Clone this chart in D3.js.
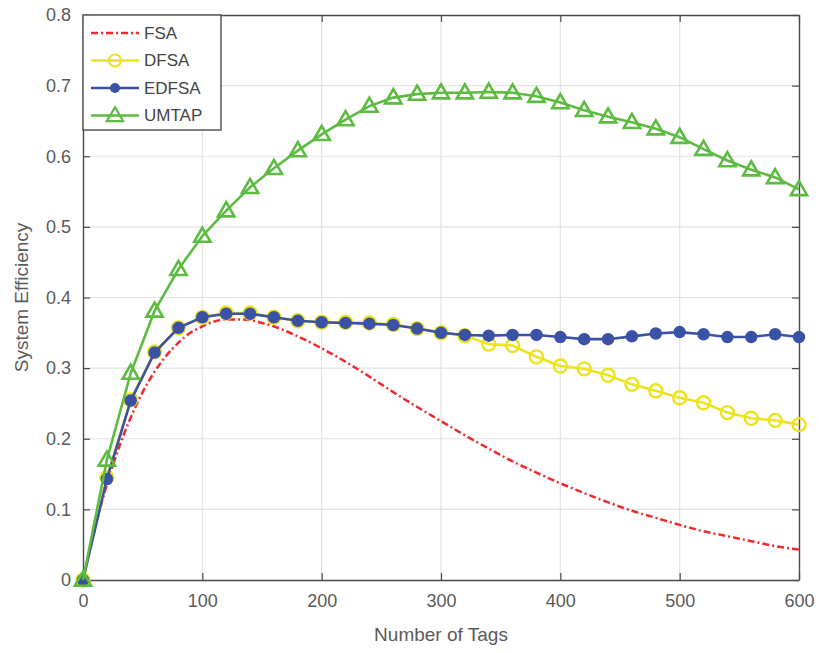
<!DOCTYPE html>
<html>
<head>
<meta charset="utf-8">
<script src="https://cdn.jsdelivr.net/npm/d3@7"></script>
<style>
  body { margin: 0; background: #fff; }
  svg { font-family: "Liberation Sans", Arial, sans-serif; }
</style>
</head>
<body>
<div id="chart"></div>
<script>
// tag counts for the marker series (every 20 tags)
const tags = [0, 20, 40, 60, 80, 100, 120, 140, 160, 180, 200, 220, 240, 260, 280, 300,
  320, 340, 360, 380, 400, 420, 440, 460, 480, 500, 520, 540, 560, 580, 600];

const dfsa = [0, 0.145, 0.255, 0.323, 0.357, 0.372, 0.378, 0.378, 0.372, 0.367, 0.365,
  0.365, 0.364, 0.362, 0.356, 0.350, 0.346, 0.334, 0.332, 0.316, 0.303, 0.299, 0.290,
  0.277, 0.268, 0.258, 0.251, 0.237, 0.229, 0.226, 0.220];

const edfsa = [0, 0.143, 0.254, 0.322, 0.357, 0.372, 0.377, 0.377, 0.372, 0.367, 0.365,
  0.364, 0.363, 0.361, 0.356, 0.350, 0.347, 0.346, 0.347, 0.347, 0.344, 0.341, 0.341,
  0.345, 0.349, 0.351, 0.348, 0.344, 0.344, 0.348, 0.344];

const umtap = [0, 0.170, 0.293, 0.381, 0.440, 0.487, 0.523, 0.556, 0.583, 0.608, 0.631,
  0.652, 0.671, 0.683, 0.688, 0.690, 0.690, 0.691, 0.690, 0.685, 0.676, 0.665, 0.656,
  0.648, 0.639, 0.627, 0.610, 0.594, 0.581, 0.570, 0.553];

// FSA is a plain line, sampled finer
const fsaTags = [0, 10, 20, 30, 40, 50, 60, 70, 80, 90, 100, 110, 120, 130, 140, 150, 160,
  180, 200, 220, 240, 260, 280, 300, 320, 340, 360, 380, 400, 420, 440, 460, 480, 500,
  520, 540, 560, 580, 600];
const fsa = [0, 0.073, 0.135, 0.187, 0.230, 0.266, 0.295, 0.318, 0.336, 0.350, 0.359,
  0.366, 0.369, 0.369, 0.368, 0.364, 0.359, 0.345, 0.328, 0.309, 0.288, 0.266, 0.245,
  0.225, 0.205, 0.186, 0.168, 0.152, 0.137, 0.123, 0.110, 0.098, 0.088, 0.078, 0.069,
  0.062, 0.055, 0.048, 0.043];

const xTicks = [0, 100, 200, 300, 400, 500, 600];
const yTicks = [0, 0.1, 0.2, 0.3, 0.4, 0.5, 0.6, 0.7, 0.8];

const width = 819, height = 653;
const margin = { top: 15, right: 20, bottom: 73, left: 83 };
const plotW = width - margin.left - margin.right;
const plotH = height - margin.top - margin.bottom;

const colors = { fsa: '#ee2a2f', dfsa: '#ede31c', edfsa: '#3a52a6', umtap: '#5cbb40' };
const axisGray = '#4a4a4a';
const textGray = '#5a5a5a';
const dashDot = '7,3,2,3';

const svg = d3.select('#chart').append('svg')
  .attr('width', width)
  .attr('height', height);

const g = svg.append('g').attr('transform', `translate(${margin.left},${margin.top})`);

const x = d3.scaleLinear().domain([0, 600]).range([0, plotW]);
const y = d3.scaleLinear().domain([0, 0.8]).range([plotH, 0]);

// grid
g.append('g').selectAll('line').data(xTicks.slice(1, -1)).enter().append('line')
  .attr('x1', d => x(d)).attr('x2', d => x(d))
  .attr('y1', 0).attr('y2', plotH)
  .attr('stroke', '#e3e3e3').attr('stroke-width', 1.2);
g.append('g').selectAll('line').data(yTicks.slice(1, -1)).enter().append('line')
  .attr('x1', 0).attr('x2', plotW)
  .attr('y1', d => y(d)).attr('y2', d => y(d))
  .attr('stroke', '#e3e3e3').attr('stroke-width', 1.2);

// axes with inward ticks, box style
function styleAxis(sel) {
  sel.select('.domain').attr('stroke', axisGray).attr('stroke-width', 1.4);
  sel.selectAll('.tick line').attr('stroke', axisGray).attr('stroke-width', 1.2);
  sel.selectAll('.tick text').attr('fill', textGray).style('font-size', '18px');
}

g.append('g').attr('transform', `translate(0,${plotH})`)
  .call(d3.axisBottom(x).tickValues(xTicks).tickSize(-7).tickSizeOuter(0).tickPadding(14))
  .call(styleAxis);
g.append('g')
  .call(d3.axisLeft(y).tickValues(yTicks).tickFormat(d => d === 0 ? '0' : d3.format('.1f')(d))
    .tickSize(-7).tickSizeOuter(0).tickPadding(12))
  .call(styleAxis);
g.append('g')
  .call(d3.axisTop(x).tickValues(xTicks).tickSize(-7).tickSizeOuter(0).tickFormat(''))
  .call(styleAxis);
g.append('g').attr('transform', `translate(${plotW},0)`)
  .call(d3.axisRight(y).tickValues(yTicks).tickSize(-7).tickSizeOuter(0).tickFormat(''))
  .call(styleAxis);

// axis titles
svg.append('text')
  .attr('x', margin.left + plotW / 2).attr('y', 641)
  .attr('text-anchor', 'middle')
  .attr('fill', textGray).style('font-size', '19px')
  .text('Number of Tags');
svg.append('text')
  .attr('transform', `translate(28,${margin.top + plotH / 2}) rotate(-90)`)
  .attr('text-anchor', 'middle')
  .attr('fill', textGray).style('font-size', '19px')
  .text('System Efficiency');

const line = d3.line().x(d => x(d[0])).y(d => y(d[1]));

// FSA dash-dot curve
g.append('path')
  .datum(d3.zip(fsaTags, fsa))
  .attr('d', line.curve(d3.curveMonotoneX))
  .attr('fill', 'none')
  .attr('stroke', colors.fsa)
  .attr('stroke-width', 2.5)
  .attr('stroke-dasharray', dashDot);

line.curve(d3.curveLinear);

const tri = d3.symbol().type(d3.symbolTriangle).size(115);

function drawSeries(values, color, marker) {
  const pts = d3.zip(tags, values);
  g.append('path').datum(pts)
    .attr('d', line)
    .attr('fill', 'none')
    .attr('stroke', color)
    .attr('stroke-width', 2.6);
  const m = g.append('g').selectAll('.m').data(pts).enter();
  if (marker === 'circle') {
    m.append('circle')
      .attr('cx', d => x(d[0])).attr('cy', d => y(d[1])).attr('r', 6.5)
      .attr('fill', 'none').attr('stroke', color).attr('stroke-width', 2.4);
  } else if (marker === 'star') {
    m.append('circle')
      .attr('cx', d => x(d[0])).attr('cy', d => y(d[1])).attr('r', 5.5)
      .attr('fill', color).attr('stroke', color).attr('stroke-width', 1.5);
  } else {
    m.append('path')
      .attr('transform', d => `translate(${x(d[0])},${y(d[1]) + 1})`)
      .attr('d', tri)
      .attr('fill', 'none').attr('stroke', color).attr('stroke-width', 2.6);
  }
}

drawSeries(dfsa, colors.dfsa, 'circle');
drawSeries(edfsa, colors.edfsa, 'star');
drawSeries(umtap, colors.umtap, 'triangle');

// legend
const legend = g.append('g');
legend.append('rect')
  .attr('x', 0).attr('y', 0).attr('width', 138).attr('height', 115)
  .attr('fill', '#fff').attr('stroke', axisGray).attr('stroke-width', 1.4);

const legendItems = [
  { name: 'FSA', color: colors.fsa, marker: 'none' },
  { name: 'DFSA', color: colors.dfsa, marker: 'circle' },
  { name: 'EDFSA', color: colors.edfsa, marker: 'star' },
  { name: 'UMTAP', color: colors.umtap, marker: 'triangle' }
];

legendItems.forEach((it, i) => {
  const ly = 18 + i * 27.5;
  const row = legend.append('g').attr('transform', `translate(0,${ly})`);
  row.append('line')
    .attr('x1', 8).attr('x2', 56).attr('y1', 0).attr('y2', 0)
    .attr('stroke', it.color).attr('stroke-width', 2.4)
    .attr('stroke-dasharray', it.marker === 'none' ? dashDot : null);
  if (it.marker === 'circle') {
    row.append('circle').attr('cx', 32).attr('cy', 0).attr('r', 6)
      .attr('fill', 'none').attr('stroke', it.color).attr('stroke-width', 2.2);
  } else if (it.marker === 'star') {
    row.append('circle').attr('cx', 32).attr('cy', 0).attr('r', 5)
      .attr('fill', it.color);
  } else if (it.marker === 'triangle') {
    row.append('path').attr('transform', 'translate(32,1)').attr('d', tri)
      .attr('fill', 'none').attr('stroke', it.color).attr('stroke-width', 2.2);
  }
  row.append('text')
    .attr('x', 61).attr('y', 0).attr('dy', '0.35em')
    .attr('fill', '#444').style('font-size', '17px')
    .text(it.name);
});
</script>
</body>
</html>
